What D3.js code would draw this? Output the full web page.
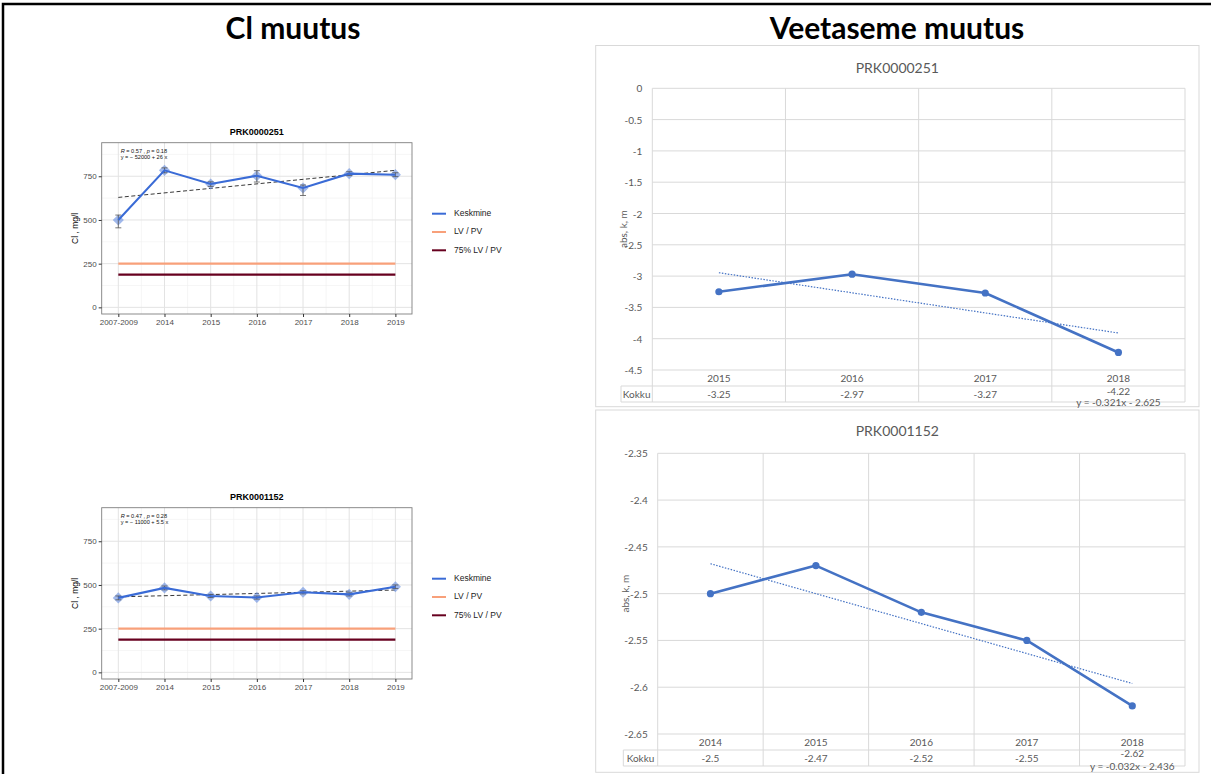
<!DOCTYPE html>
<html>
<head>
<meta charset="utf-8">
<script src="https://cdn.jsdelivr.net/npm/d3@7"></script>
<style>
  body { margin: 0; background: #fff; }
  svg { display: block; }
  .gg text { font-family: "Liberation Sans", Arial, sans-serif; }
  .xl text { font-family: Lato, "Open Sans", sans-serif; }
</style>
</head>
<body>
<div id="chart"></div>
<script>
(() => {
  // Cl muutus (left, ggplot-style)
  const clYears = ['2007-2009', '2014', '2015', '2016', '2017', '2018', '2019'];
  const clTicks = [0, 250, 500, 750];
  const clMinorTicks = [125, 375, 625, 875];
  const lvValue = 250;
  const lv75Value = 187.5;
  const legendLabels = ['Keskmine', 'LV / PV', '75% LV / PV'];

  const cl251 = [500, 784, 706, 753, 683, 765, 759];
  const cl251Low = [455, 770, 692, 717, 640, 754, 748];
  const cl251High = [528, 798, 718, 782, 700, 776, 770];
  const cl251Trend = [629, 784];
  const cl251Stats = ['0.57', '0.18', 'y = \u2212 52000 + 26 x'];

  const cl1152 = [426, 483, 437, 428, 458, 446, 490];
  const cl1152Low = [415, 472, 428, 419, 449, 437, 480];
  const cl1152High = [437, 494, 446, 437, 467, 455, 500];
  const cl1152Trend = [432, 471];
  const cl1152Stats = ['0.47', '0.28', 'y = \u2212 11000 + 5.5 x'];

  // Veetaseme muutus (right, Excel-style)
  const wl251Years = ['2015', '2016', '2017', '2018'];
  const wl251 = [-3.25, -2.97, -3.27, -4.22];
  const wl251Labels = ['-3.25', '-2.97', '-3.27', '-4.22'];
  const wl251Ticks = [0, -0.5, -1, -1.5, -2, -2.5, -3, -3.5, -4, -4.5];
  const wl251Trend = { slope: -0.321, intercept: -2.625, text: 'y = -0.321x - 2.625' };

  const wl1152Years = ['2014', '2015', '2016', '2017', '2018'];
  const wl1152 = [-2.5, -2.47, -2.52, -2.55, -2.62];
  const wl1152Labels = ['-2.5', '-2.47', '-2.52', '-2.55', '-2.62'];
  const wl1152Ticks = [-2.35, -2.4, -2.45, -2.5, -2.55, -2.6, -2.65];
  const wl1152Trend = { slope: -0.032, intercept: -2.436, text: 'y = -0.032x - 2.436' };

  const W = 1211, H = 774;
  const svg = d3.select('#chart').append('svg')
    .attr('width', W)
    .attr('height', H);

  // outer frame
  svg.append('path')
    .attr('d', `M3,${H} L3,4 L${W},4`)
    .attr('fill', 'none')
    .attr('stroke', '#000')
    .attr('stroke-width', 2.5);

  svg.append('text')
    .attr('x', 293).attr('y', 39)
    .attr('text-anchor', 'middle')
    .style('font-family', 'Lato, "Open Sans", sans-serif')
    .style('font-weight', 700)
    .style('font-size', '30px')
    .text('Cl muutus');

  svg.append('text')
    .attr('x', 897).attr('y', 39)
    .attr('text-anchor', 'middle')
    .style('font-family', 'Lato, "Open Sans", sans-serif')
    .style('font-weight', 700)
    .style('font-size', '30px')
    .text('Veetaseme muutus');

  const legendColors = ['#3A6BD6', '#F8A07A', '#67001F'];

  function drawCl(cfg) {
    const g = svg.append('g').attr('class', 'gg');
    const left = 101.7, right = 412;
    const top = cfg.top, bottom = cfg.top + 171.3;

    const x = d3.scalePoint().domain(clYears).range([left, right]).padding(0.36);
    const y = d3.scaleLinear().domain([-38, 942]).range([bottom, top]);

    // grid
    g.selectAll('.minor-y').data(clMinorTicks).join('line')
      .attr('x1', left).attr('x2', right)
      .attr('y1', d => y(d)).attr('y2', d => y(d))
      .attr('stroke', '#F0F0F0').attr('stroke-width', 0.6);
    const mids = d3.pairs(clYears).map(([a, b]) => (x(a) + x(b)) / 2);
    g.selectAll('.minor-x').data(mids).join('line')
      .attr('x1', d => d).attr('x2', d => d)
      .attr('y1', top).attr('y2', bottom)
      .attr('stroke', '#F0F0F0').attr('stroke-width', 0.6);
    g.selectAll('.major-y').data(clTicks).join('line')
      .attr('x1', left).attr('x2', right)
      .attr('y1', d => y(d)).attr('y2', d => y(d))
      .attr('stroke', '#E3E3E3').attr('stroke-width', 1);
    g.selectAll('.major-x').data(clYears).join('line')
      .attr('x1', d => x(d)).attr('x2', d => x(d))
      .attr('y1', top).attr('y2', bottom)
      .attr('stroke', '#E3E3E3').attr('stroke-width', 1);

    g.append('rect')
      .attr('x', left).attr('y', top)
      .attr('width', right - left).attr('height', bottom - top)
      .attr('fill', 'none').attr('stroke', '#7F7F7F').attr('stroke-width', 0.9);

    // axes
    g.append('g')
      .attr('transform', `translate(${left},0)`)
      .call(d3.axisLeft(y).tickValues(clTicks).tickSize(3).tickPadding(2))
      .call(a => a.select('.domain').remove())
      .call(a => a.selectAll('line').attr('stroke', '#333'))
      .call(a => a.selectAll('text').attr('fill', '#4D4D4D').style('font-size', '8px'));

    g.append('g')
      .attr('transform', `translate(0,${bottom})`)
      .call(d3.axisBottom(x).tickSize(3).tickPadding(2))
      .call(a => a.select('.domain').remove())
      .call(a => a.selectAll('line').attr('stroke', '#333'))
      .call(a => a.selectAll('text').attr('fill', '#4D4D4D').style('font-size', '8px'));

    // reference lines
    const x0 = x(clYears[0]), x1 = x(clYears[clYears.length - 1]);
    g.append('line')
      .attr('x1', x0).attr('x2', x1)
      .attr('y1', y(lvValue)).attr('y2', y(lvValue))
      .attr('stroke', legendColors[1]).attr('stroke-width', 2.4);
    g.append('line')
      .attr('x1', x0).attr('x2', x1)
      .attr('y1', y(lv75Value)).attr('y2', y(lv75Value))
      .attr('stroke', legendColors[2]).attr('stroke-width', 2.4);

    // trend
    g.append('line')
      .attr('x1', x0).attr('x2', x1)
      .attr('y1', y(cfg.trend[0])).attr('y2', y(cfg.trend[1]))
      .attr('stroke', '#222').attr('stroke-width', 0.9)
      .attr('stroke-dasharray', '4,2.5');

    const pts = clYears.map((d, i) => ({ k: d, v: cfg.values[i], lo: cfg.low[i], hi: cfg.high[i] }));

    g.selectAll('.diamond').data(pts).join('path')
      .attr('d', d3.symbol(d3.symbolSquare, 62))
      .attr('transform', d => `translate(${x(d.k)},${y(d.v)}) rotate(45)`)
      .attr('fill', '#6F93E2').attr('fill-opacity', 0.65);

    const eb = g.selectAll('.eb').data(pts).join('g')
      .attr('stroke', '#555').attr('stroke-width', 0.8);
    eb.append('line')
      .attr('x1', d => x(d.k)).attr('x2', d => x(d.k))
      .attr('y1', d => y(d.lo)).attr('y2', d => y(d.hi));
    eb.append('line')
      .attr('x1', d => x(d.k) - 3).attr('x2', d => x(d.k) + 3)
      .attr('y1', d => y(d.lo)).attr('y2', d => y(d.lo));
    eb.append('line')
      .attr('x1', d => x(d.k) - 3).attr('x2', d => x(d.k) + 3)
      .attr('y1', d => y(d.hi)).attr('y2', d => y(d.hi));

    g.append('path')
      .datum(pts)
      .attr('d', d3.line().x(d => x(d.k)).y(d => y(d.v)))
      .attr('fill', 'none')
      .attr('stroke', legendColors[0]).attr('stroke-width', 2.1);

    // stats label
    const st = g.append('text')
      .attr('x', left + 19).attr('y', top + 10)
      .style('font-size', '5.6px').attr('fill', '#111');
    st.append('tspan').style('font-style', 'italic').text('R');
    st.append('tspan').text(` = ${cfg.stats[0]} , `);
    st.append('tspan').style('font-style', 'italic').text('p');
    st.append('tspan').text(` = ${cfg.stats[1]}`);
    g.append('text')
      .attr('x', left + 19).attr('y', top + 16)
      .style('font-size', '5.6px').attr('fill', '#111')
      .text(cfg.stats[2]);

    // title and axis label
    g.append('text')
      .attr('x', (left + right) / 2).attr('y', top - 7.5)
      .attr('text-anchor', 'middle')
      .style('font-size', '9px').style('font-weight', 700)
      .text(cfg.title);

    g.append('text')
      .attr('transform', `translate(78,${(top + bottom) / 2}) rotate(-90)`)
      .attr('text-anchor', 'middle')
      .style('font-size', '8.5px')
      .text('Cl , mg/l');

    // legend
    const lg = g.append('g')
      .attr('transform', `translate(432,${top + 71})`);
    legendLabels.forEach((lab, i) => {
      lg.append('line')
        .attr('x1', 0).attr('x2', 14)
        .attr('y1', i * 18.3).attr('y2', i * 18.3)
        .attr('stroke', legendColors[i]).attr('stroke-width', 2);
      lg.append('text')
        .attr('x', 22).attr('y', i * 18.3)
        .attr('dominant-baseline', 'middle')
        .style('font-size', '8.5px').attr('fill', '#222')
        .text(lab);
    });
  }

  drawCl({ top: 142.7, title: 'PRK0000251', values: cl251, low: cl251Low, high: cl251High, trend: cl251Trend, stats: cl251Stats });
  drawCl({ top: 507.7, title: 'PRK0001152', values: cl1152, low: cl1152Low, high: cl1152High, trend: cl1152Trend, stats: cl1152Stats });

  function drawWl(cfg) {
    const g = svg.append('g').attr('class', 'xl');
    const boxL = 595.7, boxR = 1199;
    const plotL = cfg.plotL, plotR = 1185;
    const plotT = cfg.plotT, plotB = cfg.plotB;
    const rowH = 16;
    const kokkuL = cfg.kokkuL;
    const grid = '#D9D9D9';
    const txt = '#595959';

    g.append('rect')
      .attr('x', boxL).attr('y', cfg.boxT)
      .attr('width', boxR - boxL).attr('height', cfg.boxB - cfg.boxT)
      .attr('fill', '#fff').attr('stroke', grid).attr('stroke-width', 1);

    const x = d3.scaleBand().domain(cfg.years).range([plotL, plotR]);
    const ticks = cfg.ticks;
    const y = d3.scaleLinear().domain([ticks[ticks.length - 1], ticks[0]]).range([plotB, plotT]);

    g.selectAll('.hg').data(ticks).join('line')
      .attr('x1', plotL).attr('x2', plotR)
      .attr('y1', d => y(d)).attr('y2', d => y(d))
      .attr('stroke', grid).attr('stroke-width', 1);

    const bounds = cfg.years.map(d => x(d)).concat([plotR]);
    g.selectAll('.vg').data(bounds).join('line')
      .attr('x1', d => d).attr('x2', d => d)
      .attr('y1', plotT).attr('y2', plotB + 2 * rowH)
      .attr('stroke', grid).attr('stroke-width', 1);

    // data table
    g.append('line')
      .attr('x1', kokkuL).attr('x2', plotR)
      .attr('y1', plotB + rowH).attr('y2', plotB + rowH)
      .attr('stroke', grid);
    g.append('line')
      .attr('x1', kokkuL).attr('x2', plotR)
      .attr('y1', plotB + 2 * rowH).attr('y2', plotB + 2 * rowH)
      .attr('stroke', grid);
    g.append('line')
      .attr('x1', kokkuL).attr('x2', kokkuL)
      .attr('y1', plotB + rowH).attr('y2', plotB + 2 * rowH)
      .attr('stroke', grid);

    g.append('text')
      .attr('x', (kokkuL + plotL) / 2).attr('y', plotB + 1.5 * rowH)
      .attr('text-anchor', 'middle').attr('dominant-baseline', 'central')
      .style('font-size', '10px').attr('fill', txt)
      .text('Kokku');

    g.selectAll('.cat').data(cfg.years).join('text')
      .attr('x', d => x(d) + x.bandwidth() / 2)
      .attr('y', plotB + 0.5 * rowH)
      .attr('text-anchor', 'middle').attr('dominant-baseline', 'central')
      .style('font-size', '10px').attr('fill', txt)
      .text(d => d);

    g.selectAll('.val').data(cfg.labels).join('text')
      .attr('x', (d, i) => x(cfg.years[i]) + x.bandwidth() / 2)
      .attr('y', (d, i) => plotB + 1.5 * rowH - (i === cfg.labels.length - 1 ? cfg.lastShift : 0))
      .attr('text-anchor', 'middle').attr('dominant-baseline', 'central')
      .style('font-size', '10px').attr('fill', txt)
      .text(d => d);

    // y tick labels
    g.selectAll('.yt').data(ticks).join('text')
      .attr('x', plotL - 10)
      .attr('y', d => y(d))
      .attr('text-anchor', 'end').attr('dominant-baseline', 'central')
      .style('font-size', '10px').attr('fill', txt)
      .text(d => String(d));

    g.append('text')
      .attr('transform', `translate(${cfg.yLabelX},${(plotT + plotB) / 2}) rotate(-90)`)
      .attr('text-anchor', 'middle').attr('dominant-baseline', 'central')
      .style('font-size', '10px').attr('fill', txt)
      .text('abs, k, m');

    g.append('text')
      .attr('x', (boxL + boxR) / 2).attr('y', cfg.titleY)
      .attr('text-anchor', 'middle').attr('dominant-baseline', 'central')
      .style('font-size', '14px').attr('fill', txt)
      .text(cfg.title);

    const cx = d => x(d) + x.bandwidth() / 2;
    const n = cfg.years.length;

    // linear trendline from its displayed equation (x = 1..n)
    g.append('line')
      .attr('x1', cx(cfg.years[0])).attr('x2', cx(cfg.years[n - 1]))
      .attr('y1', y(cfg.trend.slope * 1 + cfg.trend.intercept))
      .attr('y2', y(cfg.trend.slope * n + cfg.trend.intercept))
      .attr('stroke', '#4472C4').attr('stroke-width', 1.2)
      .attr('stroke-dasharray', '1.5,1.5');

    const pts = cfg.years.map((d, i) => ({ k: d, v: cfg.values[i] }));
    g.append('path')
      .datum(pts)
      .attr('d', d3.line().x(d => cx(d.k)).y(d => y(d.v)))
      .attr('fill', 'none')
      .attr('stroke', '#4472C4').attr('stroke-width', 2.6)
      .attr('stroke-linejoin', 'round');
    g.selectAll('.pt').data(pts).join('circle')
      .attr('cx', d => cx(d.k)).attr('cy', d => y(d.v))
      .attr('r', 3.6).attr('fill', '#4472C4');

    g.append('text')
      .attr('x', cx(cfg.years[n - 1])).attr('y', cfg.eqY)
      .attr('text-anchor', 'middle').attr('dominant-baseline', 'central')
      .style('font-size', '10px').attr('fill', txt)
      .text(cfg.trend.text);
  }

  drawWl({
    title: 'PRK0000251', years: wl251Years, values: wl251, labels: wl251Labels,
    ticks: wl251Ticks, trend: wl251Trend,
    boxT: 45.5, boxB: 406.7, plotL: 652.3, plotT: 88.3, plotB: 370,
    kokkuL: 621, titleY: 67, yLabelX: 623, eqY: 402, lastShift: 3
  });
  drawWl({
    title: 'PRK0001152', years: wl1152Years, values: wl1152, labels: wl1152Labels,
    ticks: wl1152Ticks, trend: wl1152Trend,
    boxT: 410, boxB: 772.3, plotL: 657.7, plotT: 453.3, plotB: 734,
    kokkuL: 623.3, titleY: 430, yLabelX: 625, eqY: 765.5, lastShift: 5
  });
})();
</script>
</body>
</html>
